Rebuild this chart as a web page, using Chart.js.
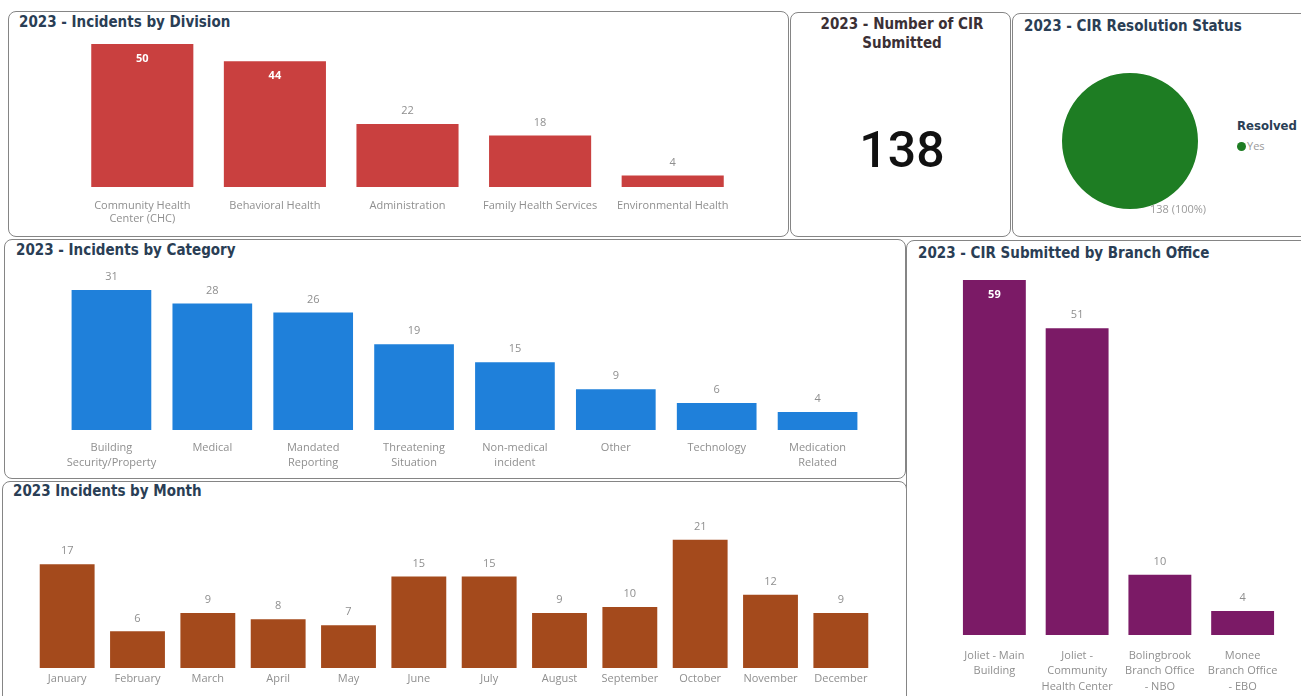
<!DOCTYPE html>
<html lang="en">
<head>
<meta charset="UTF-8">
<title>2023 CIR Dashboard</title>
<script src="https://cdn.jsdelivr.net/npm/chart.js"></script>
<style>
  body { margin: 0; background: #fff; width: 1301px; height: 696px; overflow: hidden; position: relative; font-family: "DejaVu Sans Condensed", "Roboto", sans-serif; }
  .panel { position: absolute; border: 1.5px solid #858585; border-radius: 8px; background: #fff; box-sizing: border-box; }
  .title { position: absolute; font-weight: bold; font-size: 15px; color: #2a3e55; white-space: nowrap; }
  .box { position: absolute; }
  #kpiTitle { left: 790px; width: 224px; top: 15px; text-align: center; line-height: 19px; color: #3b3035; }
  #kpiValue { position: absolute; left: 790px; width: 224px; top: 121px; text-align: center; font-family: "Roboto", sans-serif; font-weight: 500; font-size: 50px; color: #111; }
  #legend { position: absolute; left: 1237px; top: 118px; font-family: "DejaVu Sans Condensed", sans-serif; }
  #legend b { display: block; color: #2a3e55; font-size: 13px; margin-bottom: 2px; }
  #legend span { font-family: "Open Sans", sans-serif; font-size: 11px; color: #9a9a9a; }
  #legend i { display: inline-block; width: 9px; height: 9px; border-radius: 50%; background: #1e7d23; margin-right: 1px; vertical-align: -1px; }
</style>
</head>
<body>
<div class="panel" style="left:8px;top:11px;width:781px;height:226px"></div>
<div class="panel" style="left:790px;top:12px;width:221px;height:225px"></div>
<div class="panel" style="left:1012px;top:13px;width:300px;height:224px"></div>
<div class="panel" style="left:4px;top:239px;width:902px;height:240px"></div>
<div class="panel" style="left:906px;top:240px;width:410px;height:470px"></div>
<div class="panel" style="left:2px;top:481px;width:905px;height:230px"></div>

<div class="title" style="left:19px;top:13px">2023 - Incidents by Division</div>
<div class="title" id="kpiTitle">2023 - Number of CIR<br>Submitted</div>
<div id="kpiValue"></div>
<div class="title" style="left:1024px;top:17px">2023 - CIR Resolution Status</div>
<div class="title" style="left:16px;top:241px">2023 - Incidents by Category</div>
<div class="title" style="left:918px;top:244px">2023 - CIR Submitted by Branch Office</div>
<div class="title" style="left:13px;top:482px">2023 Incidents by Month</div>
<div id="legend"></div>

<div class="box" style="left:8px;top:30px;width:780px;height:200px"><canvas id="divChart"></canvas></div>
<div class="box" style="left:1012px;top:40px;width:218px;height:196px"><canvas id="pieChart"></canvas></div>
<div class="box" style="left:5px;top:262px;width:900px;height:213px"><canvas id="catChart"></canvas></div>
<div class="box" style="left:906px;top:265px;width:395px;height:431px"><canvas id="branchChart"></canvas></div>
<div class="box" style="left:3px;top:500px;width:903px;height:196px"><canvas id="monthChart"></canvas></div>

<script>
// ---- data ----
const divisions = [["Community Health", "Center (CHC)"], "Behavioral Health", "Administration", "Family Health Services", "Environmental Health"];
const divisionCounts = [50, 44, 22, 18, 4];

const categories = [["Building", "Security/Property"], "Medical", ["Mandated", "Reporting"], ["Threatening", "Situation"], ["Non-medical", "incident"], "Other", "Technology", ["Medication", "Related"]];
const categoryCounts = [31, 28, 26, 19, 15, 9, 6, 4];

const months = ["January", "February", "March", "April", "May", "June", "July", "August", "September", "October", "November", "December"];
const monthCounts = [17, 6, 9, 8, 7, 15, 15, 9, 10, 21, 12, 9];

const branches = [["Joliet - Main", "Building"], ["Joliet -", "Community", "Health Center"], ["Bolingbrook", "Branch Office", "- NBO"], ["Monee", "Branch Office", "- EBO"]];
const branchCounts = [59, 51, 10, 4];

const resolvedLabels = ["Yes"];
const resolvedCounts = [138];

const totalCIR = divisionCounts.reduce((a, b) => a + b, 0);
document.getElementById('kpiValue').textContent = totalCIR;
document.getElementById('legend').innerHTML = '<b>Resolved</b>' +
  resolvedLabels.map(l => '<span><i></i>' + l + '</span>').join('');

// value labels on bars: inside (white) for values >= insideFrom, otherwise above (gray)
const barLabels = {
  id: 'barLabels',
  afterDatasetsDraw(chart, args, opts) {
    const ctx = chart.ctx;
    const meta = chart.getDatasetMeta(0);
    const data = chart.data.datasets[0].data;
    ctx.save();
    ctx.textAlign = 'center';
    ctx.textBaseline = 'middle';
    meta.data.forEach((bar, i) => {
      const v = data[i];
      if (v >= opts.insideFrom) {
        ctx.font = 'bold 11px "Open Sans", sans-serif';
        ctx.fillStyle = '#ffffff';
        ctx.fillText(v, bar.x, bar.y + 15);
      } else {
        ctx.font = '11px "Open Sans", sans-serif';
        ctx.fillStyle = '#8f8f8f';
        ctx.fillText(v, bar.x, bar.y - 13);
      }
    });
    ctx.restore();
  }
};

function barChart(id, labels, values, color, cfg) {
  return new Chart(document.getElementById(id), {
    type: 'bar',
    data: {
      labels: labels,
      datasets: [{ data: values, backgroundColor: color, borderWidth: 0, barPercentage: cfg.bar, categoryPercentage: 1 }]
    },
    options: {
      responsive: true,
      maintainAspectRatio: false,
      animation: false,
      layout: { padding: cfg.pad },
      plugins: {
        legend: { display: false },
        tooltip: { enabled: false },
        barLabels: { insideFrom: cfg.insideFrom }
      },
      scales: {
        x: {
          grid: { display: false, drawTicks: false },
          border: { display: false },
          ticks: { color: '#8f8f8f', padding: cfg.tickPad, maxRotation: 0, autoSkip: false,
                    font: { family: '"Open Sans", sans-serif', size: 11, lineHeight: cfg.lh } },
          afterFit: s => { s.height = cfg.xh; }
        },
        y: { display: false, min: 0, max: cfg.max }
      }
    },
    plugins: [barLabels]
  });
}

barChart('divChart', divisions, divisionCounts, '#c9403f',
  { bar: 0.77, pad: { left: 68, right: 49, top: 14, bottom: 3 }, xh: 40, tickPad: 12, lh: 1.2, max: 50, insideFrom: 40 });
barChart('catChart', categories, categoryCounts, '#1f80da',
  { bar: 0.79, pad: { left: 56, right: 37, top: 28, bottom: 1 }, xh: 44, tickPad: 11, lh: 1.3, max: 31, insideFrom: Infinity });
barChart('monthChart', months, monthCounts, '#a44a1c',
  { bar: 0.78, pad: { left: 29, right: 30, top: 30, bottom: 2 }, xh: 26, tickPad: 4, lh: 1.2, max: 22.6, insideFrom: Infinity });
barChart('branchChart', branches, branchCounts, '#7b1a66',
  { bar: 0.76, pad: { left: 47, right: 17, top: 15, bottom: 3 }, xh: 58, tickPad: 13, lh: 1.4, max: 59, insideFrom: 55 });

// pie with outside label
const pieLabel = {
  id: 'pieLabel',
  afterDatasetsDraw(chart) {
    const ctx = chart.ctx;
    const arc = chart.getDatasetMeta(0).data[0];
    const total = resolvedCounts.reduce((a, b) => a + b, 0);
    const v = resolvedCounts[0];
    ctx.save();
    ctx.font = '11px "Open Sans", sans-serif';
    ctx.fillStyle = '#9a9a9a';
    ctx.textAlign = 'center';
    ctx.textBaseline = 'middle';
    ctx.fillText(v + ' (' + Math.round(v / total * 100) + '%)', arc.x + 48, arc.y + arc.outerRadius + 1);
    ctx.restore();
  }
};

new Chart(document.getElementById('pieChart'), {
  type: 'pie',
  data: { labels: resolvedLabels, datasets: [{ data: resolvedCounts, backgroundColor: '#1e7d23', borderWidth: 0 }] },
  options: {
    responsive: true,
    maintainAspectRatio: false,
    animation: false,
    layout: { padding: { left: 50, right: 32, top: 33, bottom: 27 } },
    plugins: { legend: { display: false }, tooltip: { enabled: false } }
  },
  plugins: [pieLabel]
});
</script>
</body>
</html>
